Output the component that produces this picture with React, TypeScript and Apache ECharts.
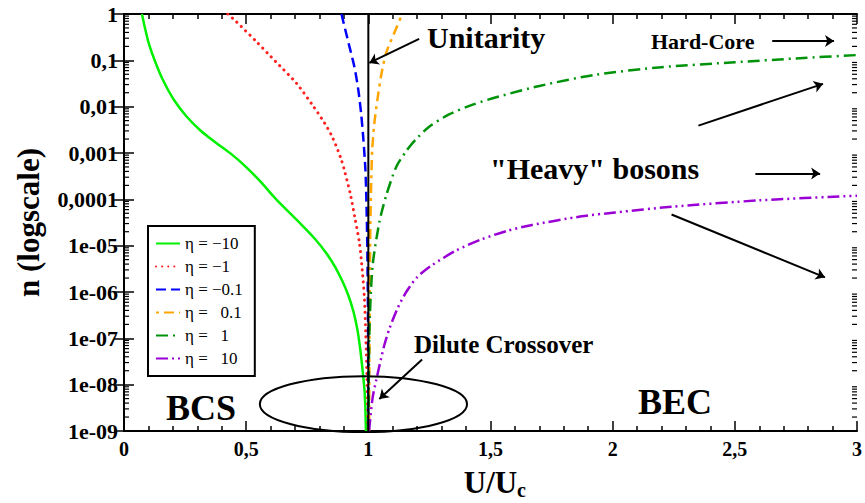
import React, { useEffect, useRef } from "react";
import * as echarts from "echarts";

const FONT = "Liberation Serif, Times New Roman, serif";

const xTickLabels = ["0", "0,5", "1", "1,5", "2", "2,5", "3"];
const yTickLabels = ["1", "0,1", "0,01", "0,001", "0,0001", "1e-05", "1e-06", "1e-07", "1e-08", "1e-09"];
const minorMultipliers = [2, 3, 4, 5, 6, 7, 8, 9];
const decadeExponents = [-9, -8, -7, -6, -5, -4, -3, -2, -1];

const seriesNames = ["η = −10", "η = −1", "η = −0.1", "η =   0.1", "η =   1", "η =   10"];
const seriesColors = ["#00f000", "#ff2020", "#0000ff", "#ffa500", "#00930a", "#9a00d6"];

const etaM10: [number, number][] = [
  [0.0735, 1], [0.0857, 0.5], [0.102, 0.226], [0.1265, 0.097], [0.159, 0.038], [0.204, 0.0141],
  [0.257, 0.00605], [0.314, 0.00303], [0.376, 0.00167], [0.437, 9.7e-4], [0.498, 5.1e-4], [0.559, 2.4e-4],
  [0.62, 1.04e-4], [0.714, 3.3e-5], [0.78, 1.43e-5], [0.829, 6.8e-6], [0.865, 3.4e-6], [0.894, 1.7e-6],
  [0.918, 8.5e-7], [0.939, 3.8e-7], [0.955, 1.57e-7], [0.967, 5.8e-8], [0.976, 2.16e-8], [0.984, 8e-9],
  [0.988, 3e-9], [0.99, 1e-9],
];
const etaM1: [number, number][] = [
  [0.425, 1], [0.46, 0.68], [0.54, 0.26], [0.62, 0.095], [0.706, 0.032], [0.776, 0.01], [0.82, 0.0045],
  [0.853, 0.0022], [0.89, 7e-4], [0.925, 1.4e-4], [0.945, 4e-5], [0.963, 1.2e-5], [0.975, 3e-6],
  [0.984, 7e-7], [0.99, 1e-7], [0.995, 1e-8], [0.999, 1e-9],
];
const etaM01: [number, number][] = [
  [0.89, 1], [0.906, 0.45], [0.922, 0.205], [0.943, 0.072], [0.959, 0.023], [0.971, 0.0067],
  [0.98, 0.0019], [0.988, 4.4e-4], [0.992, 9.9e-5], [0.996, 8.3e-6], [0.999, 1.6e-7], [1.0, 1e-9],
];
const etaP01: [number, number][] = [
  [1.003, 1e-9], [1.005, 1.6e-7], [1.008, 2.2e-5], [1.012, 2.7e-4], [1.016, 0.0012], [1.024, 0.0041],
  [1.037, 0.014], [1.053, 0.049], [1.073, 0.145], [1.106, 0.39], [1.139, 1],
];
const etaP1: [number, number][] = [
  [1.001, 1e-9], [1.004, 1.2e-7], [1.017, 3.5e-6], [1.045, 3.2e-5], [1.073, 1.2e-4], [1.114, 5e-4],
  [1.155, 0.0011], [1.196, 0.002], [1.249, 0.0037], [1.33, 0.0068], [1.43, 0.0112], [1.535, 0.0166],
  [1.7, 0.028], [1.93, 0.049], [2.2, 0.071], [2.5, 0.091], [2.75, 0.11], [3, 0.13],
];
const etaP10: [number, number][] = [
  [1.003, 1e-9], [1.017, 5e-9], [1.033, 1.3e-8], [1.045, 2.5e-8], [1.065, 7e-8], [1.086, 1.6e-7],
  [1.12, 4.5e-7], [1.155, 1e-6], [1.2, 2.1e-6], [1.261, 3.8e-6], [1.36, 7.9e-6], [1.465, 1.38e-5],
  [1.57, 2.1e-5], [1.67, 2.8e-5], [1.873, 4.3e-5], [2.01, 5.2e-5], [2.24, 6.9e-5], [2.6, 9.5e-5], [3, 1.2e-4],
];
const unitarityLine: [number, number][] = [[1, 1e-9], [1, 1]];

// arrows: [from, to] in data coordinates
const arrows: [[number, number], [number, number]][] = [
  [[1.208, 0.29], [1.004, 0.088]],
  [[2.653, 0.262], [2.906, 0.262]],
  [[2.351, 0.0039], [2.861, 0.0311]],
  [[2.584, 3.59e-4], [2.849, 3.59e-4]],
  [[2.241, 4.7e-5], [2.869, 2.07e-6]],
  [[1.22, 3.5e-8], [1.045, 4.9e-9]],
];
// ellipse: center x, center log10(n), x radius, top log10(n)
const ellipseSpec = { cx: 0.98, cyLog: -8.42, rx: 0.424, topLog: -7.816 };

const dashes = [
  "solid",
  [0.1, 6],
  [10, 5],
  [3, 5, 10, 5],
  [12, 5, 2, 5],
  [12, 4, 2, 4, 2, 4],
];
const dataSets = [etaM10, etaM1, etaM01, etaP01, etaP1, etaP10];

export default function App() {
  const ref = useRef<HTMLDivElement>(null);
  useEffect(() => {
    if (!ref.current) return;
    document.body.style.margin = "0";
    const chart = echarts.init(ref.current, null, { renderer: "svg" });
    const lineSeries: any[] = dataSets.map((d, i) => ({
      name: seriesNames[i],
      type: "line",
      data: d,
      symbol: "none",
      smooth: 0.25,
      xAxisIndex: 0,
      yAxisIndex: 0,
      lineStyle: {
        color: seriesColors[i],
        width: i === 1 ? 3 : 2.5,
        type: dashes[i] as any,
        cap: i === 1 ? "round" : "butt",
      },
      itemStyle: { color: seriesColors[i] },
      emphasis: { disabled: true },
      z: 2,
    }));
    const minorData: number[][] = [];
    decadeExponents.forEach((e) => minorMultipliers.forEach((m) => minorData.push([0, m * Math.pow(10, e)])));

    const option: any = {
      animation: false,
      backgroundColor: "#fff",
      grid: { left: 124, right: 7, top: 14, bottom: 71, containLabel: false },
      legend: {
        data: seriesNames,
        orient: "vertical",
        left: 148,
        top: 226,
        itemWidth: 24,
        itemHeight: 14,
        itemGap: 6,
        padding: [9, 12, 9, 7],
        borderColor: "#000",
        borderWidth: 2,
        backgroundColor: "#fff",
        selectedMode: false,
        itemStyle: { opacity: 0 },
        textStyle: { fontFamily: FONT, fontSize: 17, color: "#000" },
      },
      xAxis: [
        {
          type: "value", min: 0, max: 3, interval: 0.5, position: "bottom",
          axisLine: { lineStyle: { color: "#000", width: 2 } },
          axisTick: { inside: true, length: 10, lineStyle: { color: "#000", width: 1.5 } },
          minorTick: { show: true, splitNumber: 5, length: 5, lineStyle: { color: "#000", width: 1.5 } },
          splitLine: { show: false },
          axisLabel: {
            formatter: (v: number) => xTickLabels[Math.round(v / 0.5)],
            fontFamily: FONT, fontWeight: "bold", fontSize: 20, color: "#000", margin: 8,
            showMaxLabel: true,
          },
          name: "U/U", nameLocation: "middle", nameGap: 36,
          nameTextStyle: { fontFamily: FONT, fontWeight: "bold", fontSize: 31, color: "#000" },
        },
        {
          type: "value", min: 0, max: 3, interval: 0.5, position: "top",
          axisLine: { lineStyle: { color: "#000", width: 2 } },
          axisTick: { inside: true, length: 10, lineStyle: { color: "#000", width: 1.5 } },
          minorTick: { show: true, splitNumber: 5, length: 5, lineStyle: { color: "#000", width: 1.5 } },
          splitLine: { show: false },
          axisLabel: { show: false },
        },
      ],
      yAxis: [
        {
          type: "log", logBase: 10, min: 1e-9, max: 1, splitNumber: 10, position: "left",
          axisLine: { show: true, lineStyle: { color: "#000", width: 2 } },
          axisTick: { show: true, inside: true, length: 10, lineStyle: { color: "#000", width: 1.5 } },
          splitLine: { show: false },
          axisLabel: {
            formatter: (v: number) => yTickLabels[Math.round(-Math.log10(v))],
            fontFamily: FONT, fontWeight: "bold", fontSize: 22, color: "#000", margin: 6,
          },
          name: "n (logscale)", nameLocation: "middle", nameGap: 80, nameRotate: 90,
          nameTextStyle: { fontFamily: FONT, fontWeight: "bold", fontSize: 31, color: "#000" },
        },
        {
          type: "log", logBase: 10, min: 1e-9, max: 1, splitNumber: 10, position: "right",
          axisLine: { show: true, lineStyle: { color: "#000", width: 2 } },
          axisTick: { show: true, inside: true, length: 10, lineStyle: { color: "#000", width: 1.5 } },
          splitLine: { show: false },
          axisLabel: { show: false },
        },
      ],
      series: [
        ...lineSeries,
        {
          name: "unitarity",
          type: "line",
          data: unitarityLine,
          symbol: "none",
          lineStyle: { color: "#000", width: 2 },
          emphasis: { disabled: true },
          z: 3,
          markLine: {
            silent: true,
            symbol: ["none", "arrow"],
            symbolSize: 9,
            label: { show: false },
            lineStyle: { color: "#000", width: 2, type: "solid" },
            emphasis: { disabled: true },
            data: arrows.map(([a, b]) => [{ coord: a }, { coord: b }]),
          },
        },
        {
          name: "minorTicks",
          type: "custom",
          data: minorData,
          silent: true,
          z: 4,
          encode: { x: 0, y: 1 },
          renderItem: (params: any, api: any) => {
            const v = api.value(1);
            const pl = api.coord([0, v]);
            const pr = api.coord([3, v]);
            const st = { stroke: "#000", lineWidth: 1.2 };
            return {
              type: "group",
              children: [
                { type: "line", shape: { x1: pl[0], y1: pl[1], x2: pl[0] + 5, y2: pl[1] }, style: st },
                { type: "line", shape: { x1: pr[0], y1: pr[1], x2: pr[0] - 5, y2: pr[1] }, style: st },
              ],
            };
          },
        },
      ],
    };
    chart.setOption(option);

    const c = chart.convertToPixel({ gridIndex: 0 }, [ellipseSpec.cx, Math.pow(10, ellipseSpec.cyLog)]);
    const r = chart.convertToPixel({ gridIndex: 0 }, [ellipseSpec.cx + ellipseSpec.rx, Math.pow(10, ellipseSpec.topLog)]);
    const txt = (text: string, x: number, y: number, fontSize: number) => ({
      type: "text", x, y, z: 10,
      style: { text, fontSize, fontWeight: "bold", fontFamily: FONT, fill: "#000", verticalAlign: "middle", align: "left" },
    });
    chart.setOption({
      graphic: [
        {
          type: "ellipse", z: 10,
          shape: { cx: c[0], cy: c[1], rx: r[0] - c[0], ry: c[1] - r[1] },
          style: { fill: "none", stroke: "#000", lineWidth: 2 },
        },
        txt("Unitarity", 427, 37, 30),
        txt("Hard-Core", 651, 41, 22),
        txt("\"Heavy\" bosons", 490, 168, 30),
        txt("Dilute Crossover", 414, 344, 25),
        txt("BCS", 166, 408, 36),
        txt("BEC", 638, 402, 36),
        txt("c", 517, 490, 20),
      ],
    });
    return () => chart.dispose();
  }, []);
  return <div ref={ref} style={{ width: 865, height: 503 }} />;
}
